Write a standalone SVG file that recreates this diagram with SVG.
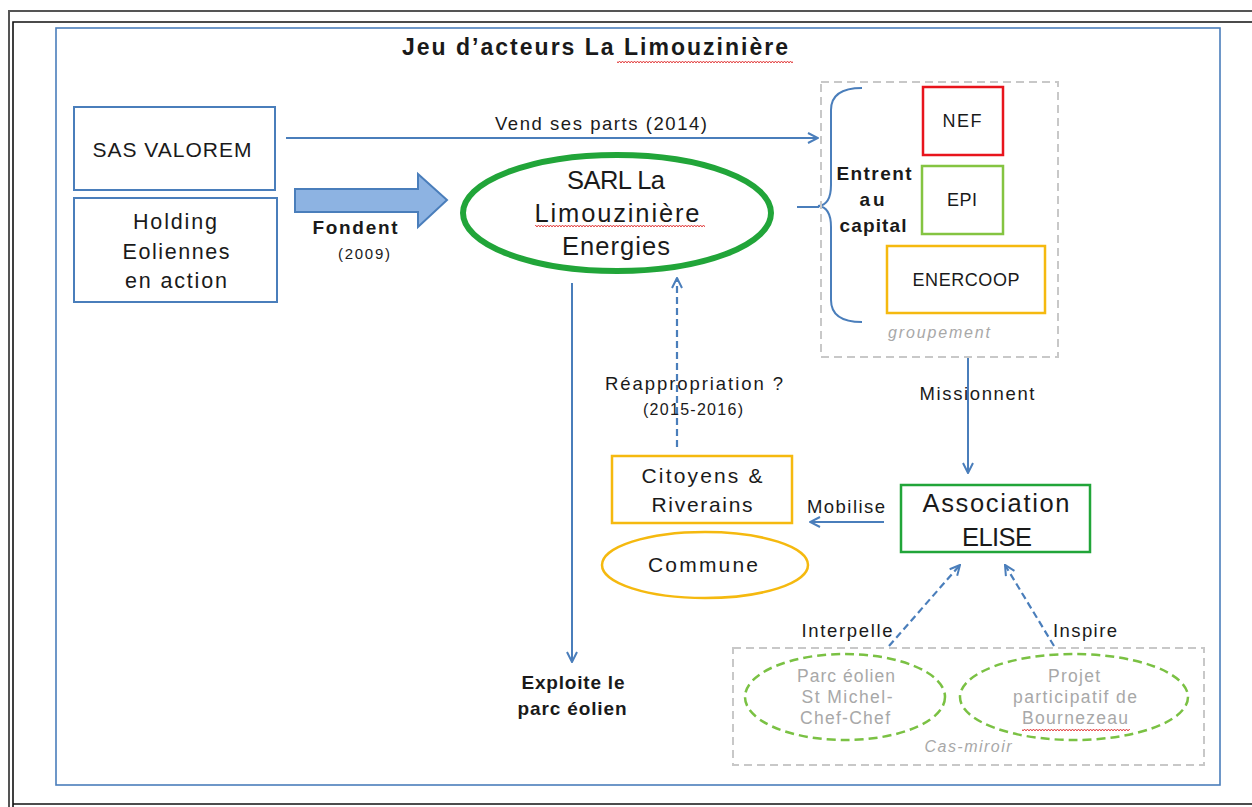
<svg xmlns="http://www.w3.org/2000/svg" width="1252" height="807" viewBox="0 0 1252 807">
<defs>
<marker id="ah" viewBox="0 0 12 12" refX="11" refY="6" markerWidth="12" markerHeight="12" markerUnits="userSpaceOnUse" orient="auto">
<path d="M1,1 L11,6 L1,11" fill="none" stroke="#4a7ebb" stroke-width="2"/>
</marker>
<pattern id="sq" width="6" height="4" patternUnits="userSpaceOnUse">
<path d="M0,3 L1.5,1 L3,3 L4.5,1 L6,3" fill="none" stroke="#e03030" stroke-width="0.9"/>
</pattern>
</defs>
<style>
.t{font-family:"Liberation Sans",Arial,sans-serif;fill:#1a1a1a;text-anchor:middle}
.b{font-weight:bold}
.g{fill:#a8a8a8}
.box{fill:none;stroke:#4a7ebb;stroke-width:2}
.ln{fill:none;stroke:#4a7ebb;stroke-width:2}
.dash{fill:none;stroke:#4a7ebb;stroke-width:2.2;stroke-dasharray:7,4}
.gd{fill:none;stroke:#c8c8c8;stroke-width:2;stroke-dasharray:8,5}
.ge{fill:none;stroke:#7ac143;stroke-width:2.5;stroke-dasharray:9,5}
</style>
<rect width="1252" height="807" fill="#ffffff"/>
<g id="frame">
<path d="M9,807 L9,11 L1252,11" fill="none" stroke="#555" stroke-width="2"/>
<path d="M13,807 L13,22 L1252,22" fill="none" stroke="#111" stroke-width="1.6"/>
<path d="M13,804 L1252,804" fill="none" stroke="#111" stroke-width="1.6"/>
<rect x="56" y="28" width="1164" height="757" fill="none" stroke="#4a7ebb" stroke-width="1.6"/>
</g>
<g id="title">
<text class="t b" x="595" y="55" font-size="23" textLength="386" lengthAdjust="spacing">Jeu d’acteurs La Limouzinière</text>
<rect x="617" y="59" width="176" height="4" fill="url(#sq)"/>
</g>
<g id="connectors">
<line class="ln" x1="286" y1="138" x2="818" y2="138" marker-end="url(#ah)"/>
<text class="t" x="601" y="130" font-size="18.5" textLength="212" lengthAdjust="spacing">Vend ses parts (2014)</text>
<path d="M295,189 L418,189 L418,174 L447,200 L418,227 L418,212 L295,212 Z" fill="#8db3e2" stroke="#4a7ebb" stroke-width="2"/>
<text class="t b" x="355" y="234" font-size="19" textLength="85" lengthAdjust="spacing">Fondent</text>
<text class="t" x="364" y="259" font-size="15" textLength="52" lengthAdjust="spacing">(2009)</text>
<line class="ln" x1="797" y1="207" x2="819" y2="207"/>
<path class="ln" d="M862,88 Q831,88 831,110 L831,185 Q831,205 818,206 Q831,207 831,227 L831,300 Q831,322 862,322"/>
<line class="ln" x1="968" y1="358" x2="968" y2="473" marker-end="url(#ah)"/>
<text class="t" x="977" y="400" font-size="18.5" textLength="115" lengthAdjust="spacing">Missionnent</text>
<line class="ln" x1="884" y1="522" x2="810" y2="522" marker-end="url(#ah)"/>
<text class="t" x="846" y="513" font-size="18.5" textLength="78" lengthAdjust="spacing">Mobilise</text>
<line class="dash" x1="677" y1="447" x2="677" y2="278" marker-end="url(#ah)"/>
<text class="t" x="694" y="390" font-size="18.5" textLength="178" lengthAdjust="spacing">Réappropriation  ?</text>
<text class="t" x="693" y="415" font-size="16" textLength="100" lengthAdjust="spacing">(2015-2016)</text>
<line class="ln" x1="572" y1="283" x2="572" y2="662" marker-end="url(#ah)"/>
<text class="t b" x="573" y="689" font-size="19" textLength="103" lengthAdjust="spacing">Exploite le</text>
<text class="t b" x="572" y="715" font-size="19" textLength="109" lengthAdjust="spacing">parc éolien</text>
<line class="dash" x1="889" y1="646" x2="960" y2="565" marker-end="url(#ah)"/>
<text class="t" x="847" y="637" font-size="18.5" textLength="91" lengthAdjust="spacing">Interpelle</text>
<line class="dash" x1="1054" y1="646" x2="1005" y2="565" marker-end="url(#ah)"/>
<text class="t" x="1085" y="637" font-size="18.5" textLength="64" lengthAdjust="spacing">Inspire</text>
</g>
<g id="sas-valorem">
<rect class="box" x="74" y="107" width="201" height="83"/>
<text class="t" x="172" y="157" font-size="21" textLength="159" lengthAdjust="spacing">SAS VALOREM</text>
</g>
<g id="holding">
<rect class="box" x="74" y="198" width="203" height="104"/>
<text class="t" x="175" y="229" font-size="21.5" textLength="84" lengthAdjust="spacing">Holding</text>
<text class="t" x="176" y="259" font-size="21.5" textLength="107" lengthAdjust="spacing">Eoliennes</text>
<text class="t" x="176" y="288" font-size="21.5" textLength="102" lengthAdjust="spacing">en action</text>
</g>
<g id="sarl">
<ellipse cx="617" cy="213" rx="154" ry="58" fill="none" stroke="#21a539" stroke-width="6"/>
<text class="t" x="616" y="189" font-size="25.5" textLength="98" lengthAdjust="spacing">SARL La</text>
<text class="t" x="617" y="222" font-size="25.5" textLength="165" lengthAdjust="spacing">Limouzinière</text>
<rect x="535" y="225" width="170" height="4" fill="url(#sq)"/>
<text class="t" x="616" y="255" font-size="25.5" textLength="108" lengthAdjust="spacing">Energies</text>
</g>
<g id="groupement">
<rect class="gd" x="821" y="82" width="237" height="275"/>
<text class="t b" x="874" y="180" font-size="19" textLength="75" lengthAdjust="spacing">Entrent</text>
<text class="t b" x="872" y="206" font-size="19" textLength="25" lengthAdjust="spacing">au</text>
<text class="t b" x="873" y="232" font-size="19" textLength="67" lengthAdjust="spacing">capital</text>
<text class="t g" x="939" y="338" font-size="16" font-style="italic" textLength="102" lengthAdjust="spacing">groupement</text>
</g>
<g id="nef">
<rect x="923" y="87" width="80" height="68" fill="none" stroke="#e8141c" stroke-width="2.5"/>
<text class="t" x="962" y="127" font-size="18" textLength="39" lengthAdjust="spacing">NEF</text>
</g>
<g id="epi">
<rect x="922" y="166" width="81" height="68" fill="none" stroke="#84c441" stroke-width="2.5"/>
<text class="t" x="962" y="206" font-size="18" textLength="30" lengthAdjust="spacing">EPI</text>
</g>
<g id="enercoop">
<rect x="887" y="246" width="158" height="67" fill="none" stroke="#f5b90f" stroke-width="2.5"/>
<text class="t" x="966" y="286" font-size="18" textLength="107" lengthAdjust="spacing">ENERCOOP</text>
</g>
<g id="elise">
<rect x="901" y="485" width="189" height="67" fill="none" stroke="#21a539" stroke-width="2.5"/>
<text class="t" x="996" y="512" font-size="25.5" textLength="147" lengthAdjust="spacing">Association</text>
<text class="t" x="997" y="546" font-size="25.5" textLength="70" lengthAdjust="spacing">ELISE</text>
</g>
<g id="citoyens">
<rect x="612" y="456" width="180" height="67" fill="none" stroke="#f5b90f" stroke-width="2.5"/>
<text class="t" x="702" y="483" font-size="21" textLength="121" lengthAdjust="spacing">Citoyens &amp;</text>
<text class="t" x="702" y="512" font-size="21" textLength="101" lengthAdjust="spacing">Riverains</text>
</g>
<g id="commune">
<ellipse cx="705" cy="565" rx="103" ry="33" fill="none" stroke="#f5b90f" stroke-width="2.5"/>
<text class="t" x="703" y="572" font-size="21" textLength="110" lengthAdjust="spacing">Commune</text>
</g>
<g id="cas-miroir">
<rect class="gd" x="733" y="648" width="471" height="117"/>
<text class="t g" x="968" y="752" font-size="16" font-style="italic" textLength="87" lengthAdjust="spacing">Cas-miroir</text>
</g>
<g id="st-michel">
<ellipse class="ge" cx="845" cy="697" rx="100" ry="43"/>
<text class="t g" x="846" y="682" font-size="17.5" textLength="98" lengthAdjust="spacing">Parc éolien</text>
<text class="t g" x="847" y="703" font-size="17.5" textLength="91" lengthAdjust="spacing">St Michel-</text>
<text class="t g" x="845" y="724" font-size="17.5" textLength="90" lengthAdjust="spacing">Chef-Chef</text>
</g>
<g id="bournezeau">
<ellipse class="ge" cx="1074" cy="697" rx="114" ry="43"/>
<text class="t g" x="1074" y="682" font-size="17.5" textLength="52" lengthAdjust="spacing">Projet</text>
<text class="t g" x="1075" y="703" font-size="17.5" textLength="124" lengthAdjust="spacing">participatif de</text>
<text class="t g" x="1075" y="724" font-size="17.5" textLength="106" lengthAdjust="spacing">Bournezeau</text>
<rect x="1022" y="727" width="108" height="4" fill="url(#sq)"/>
</g>
</svg>
